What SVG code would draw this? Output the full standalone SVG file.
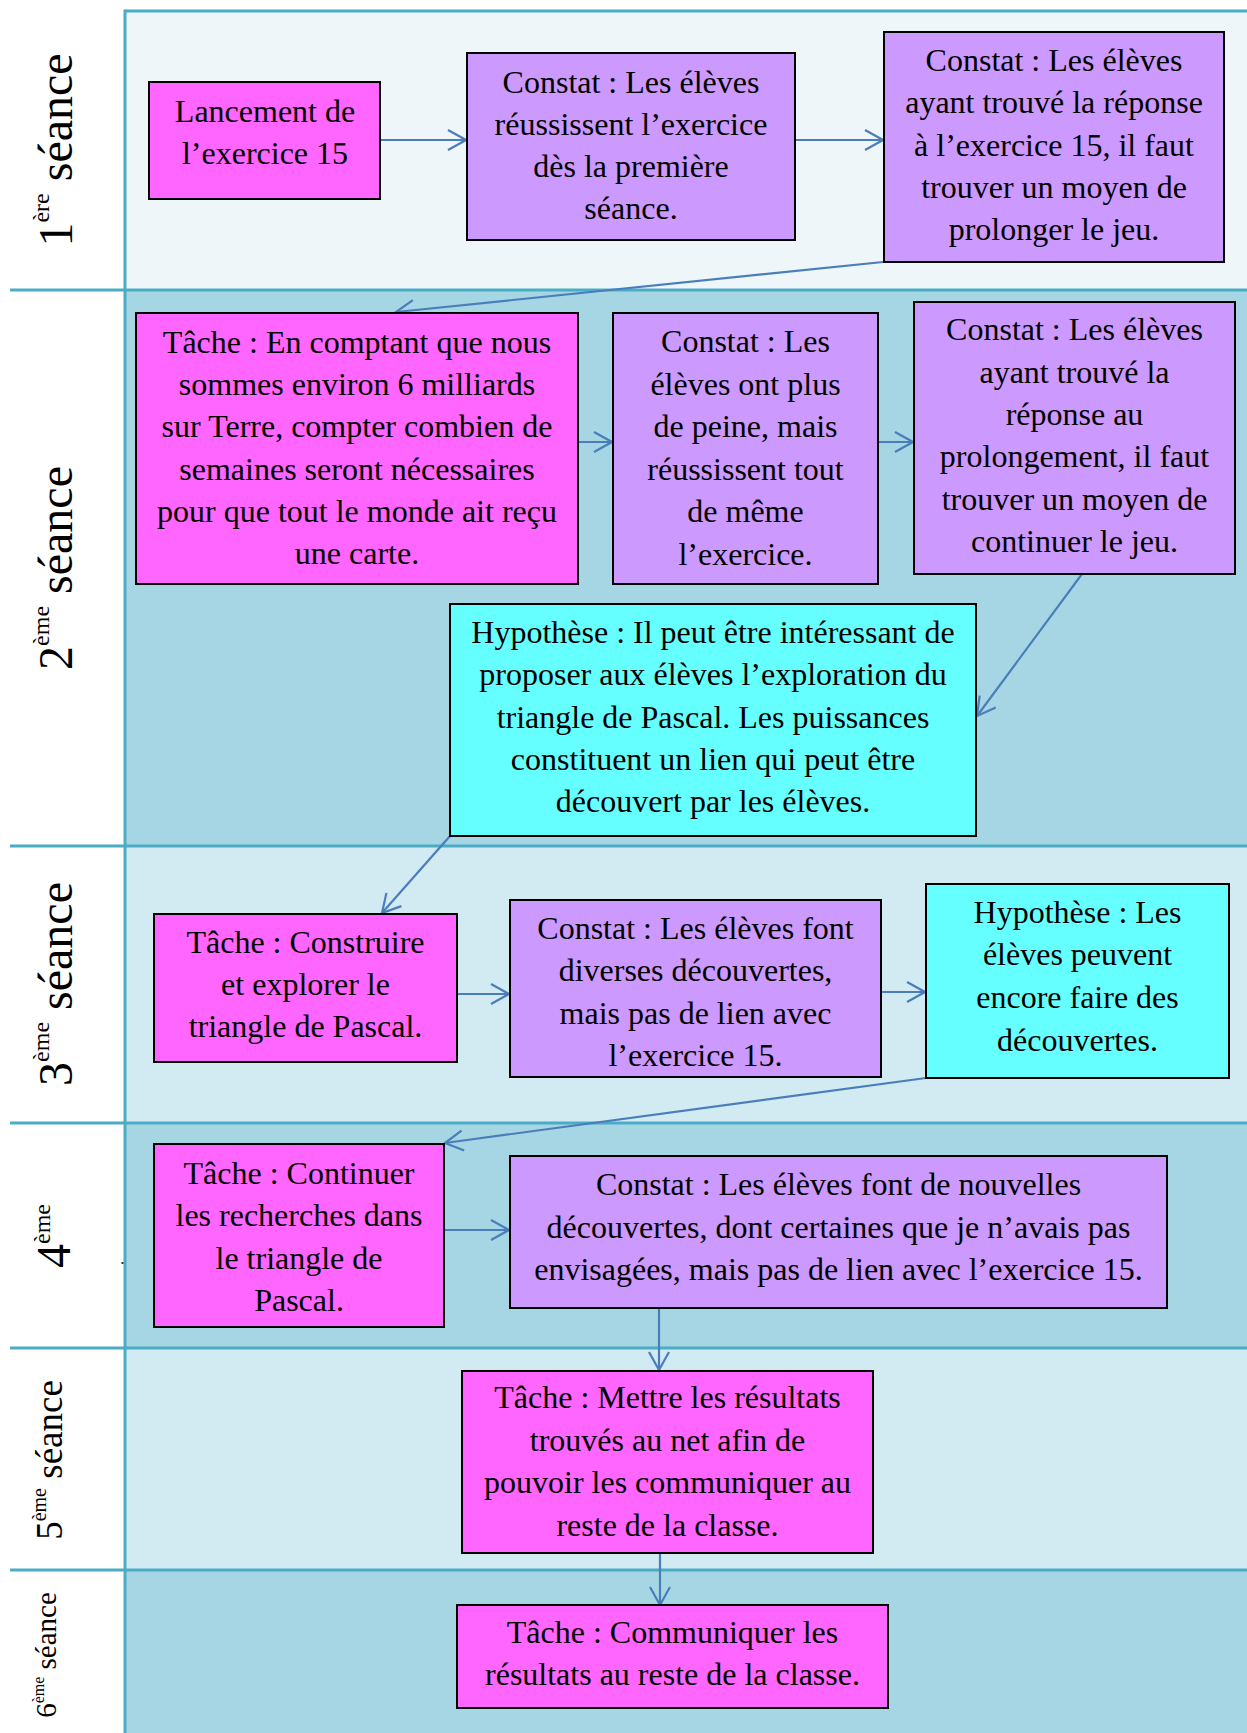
<svg xmlns="http://www.w3.org/2000/svg" width="1247" height="1733" viewBox="0 0 1247 1733">
<style>
.t{font-family:"Liberation Serif","Times New Roman",serif;font-size:32px;fill:#000;text-anchor:middle}
.lab{font-family:"Liberation Serif","Times New Roman",serif;fill:#000;text-anchor:middle}
.mag{fill:#FF66FF;stroke:#000;stroke-width:2}
.pur{fill:#CC99FF;stroke:#000;stroke-width:2}
.cya{fill:#66FFFF;stroke:#000;stroke-width:2}
.fr{stroke:#4BACC6;stroke-width:3;fill:none}
.c{stroke:#4A7EBB;stroke-width:2.2;fill:none;marker-end:url(#arr)}
</style>
<defs>
<marker id="arr" viewBox="-21 -12 23 24" refX="0" refY="0" markerWidth="23" markerHeight="24" markerUnits="userSpaceOnUse" orient="auto">
<path d="M-18,-10 L0,0 L-18,10" fill="none" stroke="#4A7EBB" stroke-width="2.2"/>
</marker>
</defs>
<rect width="1247" height="1733" fill="#FFFFFF"/>
<g id="rows">
<rect x="125" y="11" width="1122" height="279" fill="#EEF6F9"/>
<rect x="125" y="290" width="1122" height="556" fill="#A6D6E3"/>
<rect x="125" y="846" width="1122" height="277" fill="#D2EAF1"/>
<rect x="125" y="1123" width="1122" height="225" fill="#A6D6E3"/>
<rect x="125" y="1348" width="1122" height="222" fill="#D2EAF1"/>
<rect x="125" y="1570" width="1122" height="163" fill="#A6D6E3"/>
</g>
<g id="frame">
<line class="fr" x1="125" y1="11" x2="1247" y2="11"/>
<line class="fr" x1="125" y1="9.5" x2="125" y2="1733"/>
<line class="fr" x1="10" y1="290" x2="1247" y2="290"/>
<line class="fr" x1="10" y1="846" x2="1247" y2="846"/>
<line class="fr" x1="10" y1="1123" x2="1247" y2="1123"/>
<line class="fr" x1="10" y1="1348" x2="1247" y2="1348"/>
<line class="fr" x1="10" y1="1570" x2="1247" y2="1570"/>
<rect x="121.5" y="1262" width="2" height="2" fill="#333"/>
</g>
<g id="labels">
<text class="lab" font-size="48" transform="translate(72,150) rotate(-90)">1<tspan font-size="24" dy="-23">ère</tspan><tspan dy="23"> séance</tspan></text>
<text class="lab" font-size="48" transform="translate(72,568) rotate(-90)">2<tspan font-size="24" dy="-23">ème</tspan><tspan dy="23"> séance</tspan></text>
<text class="lab" font-size="48" transform="translate(72,984) rotate(-90)">3<tspan font-size="24" dy="-23">ème</tspan><tspan dy="23"> séance</tspan></text>
<text class="lab" font-size="48" transform="translate(70,1236) rotate(-90)">4<tspan font-size="24" dy="-20">ème</tspan></text>
<text class="lab" font-size="37" transform="translate(62,1460) rotate(-90)">5<tspan font-size="20" dy="-16">ème</tspan><tspan dy="16"> séance</tspan></text>
<text class="lab" font-size="29" transform="translate(56,1655) rotate(-90)">6<tspan font-size="16" dy="-12">ème</tspan><tspan dy="12"> séance</tspan></text>
</g>
<g id="connectors">
<line class="c" x1="380" y1="140" x2="466" y2="140"/>
<line class="c" x1="795" y1="140" x2="883" y2="140"/>
<line class="c" x1="883" y1="262" x2="396" y2="312"/>
<line class="c" x1="578" y1="442" x2="612" y2="442"/>
<line class="c" x1="878" y1="442" x2="913" y2="442"/>
<line class="c" x1="1082" y1="574" x2="977" y2="716"/>
<line class="c" x1="450" y1="836" x2="382" y2="913"/>
<line class="c" x1="457" y1="994" x2="509" y2="994"/>
<line class="c" x1="881" y1="992" x2="925" y2="992"/>
<line class="c" x1="926" y1="1078" x2="445" y2="1143"/>
<line class="c" x1="444" y1="1230" x2="509" y2="1230"/>
<line class="c" x1="659" y1="1308" x2="659" y2="1370"/>
<line class="c" x1="660" y1="1553" x2="660" y2="1605"/>
</g>
<g id="n1">
<rect class="mag" x="149" y="82" width="231" height="117"/>
<text class="t" x="265" y="122">Lancement de</text>
<text class="t" x="265" y="164">l’exercice 15</text>
</g>
<g id="n2">
<rect class="pur" x="467" y="53" width="328" height="187"/>
<text class="t" x="631" y="93">Constat : Les élèves</text>
<text class="t" x="631" y="135">réussissent l’exercice</text>
<text class="t" x="631" y="177">dès la première</text>
<text class="t" x="631" y="219">séance.</text>
</g>
<g id="n3">
<rect class="pur" x="884" y="32" width="340" height="230"/>
<text class="t" x="1054" y="71">Constat : Les élèves</text>
<text class="t" x="1054" y="113">ayant trouvé la réponse</text>
<text class="t" x="1054" y="155.5">à l’exercice 15, il faut</text>
<text class="t" x="1054" y="198">trouver un moyen de</text>
<text class="t" x="1054" y="240">prolonger le jeu.</text>
</g>
<g id="n4">
<rect class="mag" x="136" y="313" width="442" height="271"/>
<text class="t" x="357" y="353">Tâche : En comptant que nous</text>
<text class="t" x="357" y="395">sommes environ 6 milliards</text>
<text class="t" x="357" y="437">sur Terre, compter combien de</text>
<text class="t" x="357" y="480">semaines seront nécessaires</text>
<text class="t" x="357" y="522">pour que tout le monde ait reçu</text>
<text class="t" x="357" y="564">une carte.</text>
</g>
<g id="n5">
<rect class="pur" x="613" y="313" width="265" height="271"/>
<text class="t" x="745.5" y="352">Constat : Les</text>
<text class="t" x="745.5" y="394.5">élèves ont plus</text>
<text class="t" x="745.5" y="437">de peine, mais</text>
<text class="t" x="745.5" y="479.5">réussissent tout</text>
<text class="t" x="745.5" y="522">de même</text>
<text class="t" x="745.5" y="565">l’exercice.</text>
</g>
<g id="n6">
<rect class="pur" x="914" y="302" width="321" height="272"/>
<text class="t" x="1074.5" y="340">Constat : Les élèves</text>
<text class="t" x="1074.5" y="382.5">ayant trouvé la</text>
<text class="t" x="1074.5" y="425">réponse au</text>
<text class="t" x="1074.5" y="467">prolongement, il faut</text>
<text class="t" x="1074.5" y="509.5">trouver un moyen de</text>
<text class="t" x="1074.5" y="552">continuer le jeu.</text>
</g>
<g id="n7">
<rect class="cya" x="450" y="604" width="526" height="232"/>
<text class="t" x="713" y="643">Hypothèse : Il peut être intéressant de</text>
<text class="t" x="713" y="685">proposer aux élèves l’exploration du</text>
<text class="t" x="713" y="727.5">triangle de Pascal. Les puissances</text>
<text class="t" x="713" y="770">constituent un lien qui peut être</text>
<text class="t" x="713" y="812">découvert par les élèves.</text>
</g>
<g id="n8">
<rect class="mag" x="154" y="914" width="303" height="148"/>
<text class="t" x="305.5" y="953">Tâche : Construire</text>
<text class="t" x="305.5" y="995">et explorer le</text>
<text class="t" x="305.5" y="1037">triangle de Pascal.</text>
</g>
<g id="n9">
<rect class="pur" x="510" y="900" width="371" height="177"/>
<text class="t" x="695.5" y="939">Constat : Les élèves font</text>
<text class="t" x="695.5" y="981">diverses découvertes,</text>
<text class="t" x="695.5" y="1023.5">mais pas de lien avec</text>
<text class="t" x="695.5" y="1066">l’exercice 15.</text>
</g>
<g id="n10">
<rect class="cya" x="926" y="884" width="303" height="194"/>
<text class="t" x="1077.5" y="923">Hypothèse : Les</text>
<text class="t" x="1077.5" y="965">élèves peuvent</text>
<text class="t" x="1077.5" y="1008">encore faire des</text>
<text class="t" x="1077.5" y="1050.5">découvertes.</text>
</g>
<g id="n11">
<rect class="mag" x="154" y="1144" width="290" height="183"/>
<text class="t" x="299" y="1184">Tâche : Continuer</text>
<text class="t" x="299" y="1226">les recherches dans</text>
<text class="t" x="299" y="1268.5">le triangle de</text>
<text class="t" x="299" y="1310.5">Pascal.</text>
</g>
<g id="n12">
<rect class="pur" x="510" y="1156" width="657" height="152"/>
<text class="t" x="838.5" y="1195">Constat : Les élèves font de nouvelles</text>
<text class="t" x="838.5" y="1238">découvertes, dont certaines que je n’avais pas</text>
<text class="t" x="838.5" y="1280">envisagées, mais pas de lien avec l’exercice 15.</text>
</g>
<g id="n13">
<rect class="mag" x="462" y="1371" width="411" height="182"/>
<text class="t" x="667.5" y="1408">Tâche : Mettre les résultats</text>
<text class="t" x="667.5" y="1450.5">trouvés au net afin de</text>
<text class="t" x="667.5" y="1493">pouvoir les communiquer au</text>
<text class="t" x="667.5" y="1536">reste de la classe.</text>
</g>
<g id="n14">
<rect class="mag" x="457" y="1605" width="431" height="103"/>
<text class="t" x="672.5" y="1643">Tâche : Communiquer les</text>
<text class="t" x="672.5" y="1685">résultats au reste de la classe.</text>
</g>
</svg>
